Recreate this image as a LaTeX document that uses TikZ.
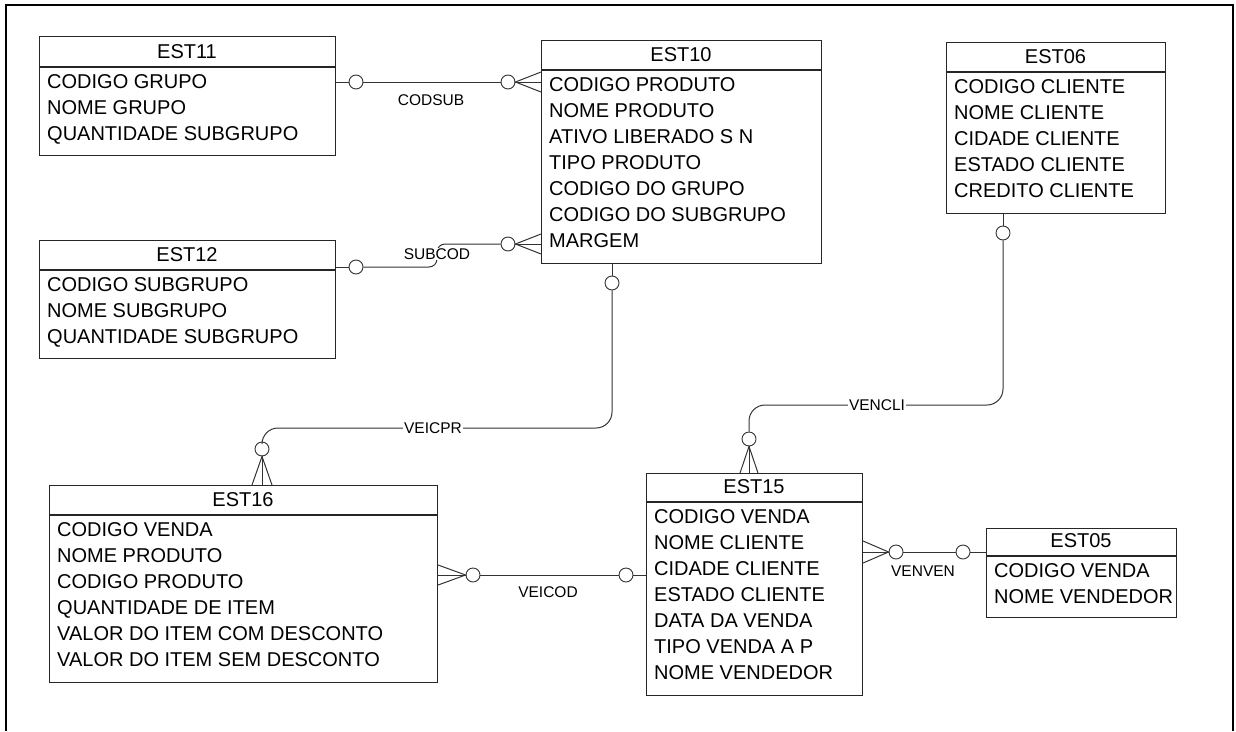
\documentclass[tikz,border=0pt]{standalone}
\usepackage{fontspec}
\setmainfont{Liberation Sans}
\usetikzlibrary{calc}
\tikzset{
 tbl/.style={draw=black!85, line width=1.1pt, inner sep=0pt, anchor=north west},
 ttl/.style={font=\fontsize{20}{24}\selectfont, inner sep=0pt},
 rowtxt/.style={font=\fontsize{20}{24}\selectfont, inner sep=0pt, anchor=base west},
 crc/.style={circle, draw=black!80, fill=white, line width=0.9pt, minimum size=14pt, inner sep=0pt},
 conn/.style={draw=black!80, line width=1pt},
 rel/.style={font=\fontsize{15.5}{18}\selectfont, inner sep=1pt},
 rellab/.style={rel, fill=white},
}
\newcommand\ertab[8]{%
 \node[tbl, minimum width={(#4-#2)*1pt}, minimum height={(#5-#3)*1pt}] (#1) at (#2,#3) {};
 \draw[draw=black!85, line width=1.1pt] (#1.west |- 0,#6) -- (#1.east |- 0,#6);
 \node[ttl] (#1-t) at ({(#2+#4)/2},{#6-15}) {#7};
 \foreach \r [count=\i] in {#8} {\node[rowtxt] (#1-r\i) at ({#2+8},{#6+14+26*(\i-1)+7.5}) {\r};}
}
\begin{document}
\begin{tikzpicture}[x=1pt,y=-1pt]
\useasboundingbox (0,0) rectangle (1236,731);
\draw[line width=2.5pt] (6,731) -- (6,5) -- (1233,5) -- (1233,731);

\ertab{est11}{39}{36}{335}{155}{67}{EST11}{CODIGO GRUPO,NOME GRUPO,QUANTIDADE SUBGRUPO}
\ertab{est10}{541}{40}{821}{263}{70}{EST10}{CODIGO PRODUTO,NOME PRODUTO,ATIVO LIBERADO S N,TIPO PRODUTO,CODIGO DO GRUPO,CODIGO DO SUBGRUPO,MARGEM}
\ertab{est06}{946}{42}{1165}{213}{72}{EST06}{CODIGO CLIENTE,NOME CLIENTE,CIDADE CLIENTE,ESTADO CLIENTE,CREDITO CLIENTE}
\ertab{est12}{39}{240}{335}{358}{270}{EST12}{CODIGO SUBGRUPO,NOME SUBGRUPO,QUANTIDADE SUBGRUPO}
\ertab{est16}{49}{485}{437}{682}{515}{EST16}{CODIGO VENDA,NOME PRODUTO,CODIGO PRODUTO,QUANTIDADE DE ITEM,VALOR DO ITEM COM DESCONTO,VALOR DO ITEM SEM DESCONTO}
\ertab{est15}{646}{473}{862}{695}{502}{EST15}{CODIGO VENDA,NOME CLIENTE,CIDADE CLIENTE,ESTADO CLIENTE,DATA DA VENDA,TIPO VENDA A P,NOME VENDEDOR}
\ertab{est05}{986}{528}{1176}{617}{556}{EST05}{CODIGO VENDA,NOME VENDEDOR}

% CODSUB
\node[crc] (c11) at (356,82) {};
\node[crc] (c10a) at (508,82) {};
\draw[conn] (est11.east |- c11) -- (c11) -- (c10a);
\draw[conn] ($(est10.west |- c10a)+(0,-10)$) -- (c10a.east) -- ($(est10.west |- c10a)+(0,10)$);
\draw[conn] (c10a.east) -- (est10.west |- c10a);
\node[rel] (lcodsub) at (431,100) {CODSUB};

% SUBCOD
\node[crc] (c12) at (356,267) {};
\node[crc] (c10b) at (508,244) {};
\draw[conn] (est12.east |- c12) -- (c12);
\draw[conn, rounded corners=8pt] (c12.east) -- (437,267) -- (437,244) -- (c10b.west);
\draw[conn] ($(est10.west |- c10b)+(0,-10)$) -- (c10b.east) -- ($(est10.west |- c10b)+(0,10)$);
\draw[conn] (c10b.east) -- (est10.west |- c10b);
\node[rellab] (lsubcod) at (437,254) {SUBCOD};

% VEICPR
\node[crc] (c10c) at (612,283) {};
\node[crc] (c16a) at (262,449) {};
\draw[conn] (c10c |- est10.south) -- (c10c);
\draw[conn, rounded corners=16pt] (c10c.south) -- (612,428) -- (262,428) -- (c16a.north);
\draw[conn] ($(c16a |- est16.north)+(-10,0)$) -- (c16a.south) -- ($(c16a |- est16.north)+(10,0)$);
\draw[conn] (c16a.south) -- (c16a |- est16.north);
\node[rellab] (lveicpr) at (433,428) {VEICPR};

% VENCLI
\node[crc] (c06) at (1003,233) {};
\node[crc] (c15a) at (749,439) {};
\draw[conn] (c06 |- est06.south) -- (c06);
\draw[conn, rounded corners=16pt] (c06.south) -- (1003,405) -- (749,405) -- (c15a.north);
\draw[conn] ($(c15a |- est15.north)+(-9,0)$) -- (c15a.south) -- ($(c15a |- est15.north)+(9,0)$);
\draw[conn] (c15a.south) -- (c15a |- est15.north);
\node[rellab] (lvencli) at (877,405) {VENCLI};

% VEICOD
\node[crc] (c16b) at (473,575) {};
\node[crc] (c15b) at (626,575) {};
\draw[conn] ($(est16.east |- c16b)+(0,-10)$) -- (c16b.west) -- ($(est16.east |- c16b)+(0,10)$);
\draw[conn] (c16b.west) -- (est16.east |- c16b);
\draw[conn] (c16b) -- (c15b) -- (est15.west |- c15b);
\node[rel] (lveicod) at (548,592) {VEICOD};

% VENVEN
\node[crc] (c15c) at (896,552) {};
\node[crc] (c05) at (963,552) {};
\draw[conn] ($(est15.east |- c15c)+(0,-11)$) -- (c15c.west) -- ($(est15.east |- c15c)+(0,11)$);
\draw[conn] (c15c.west) -- (est15.east |- c15c);
\draw[conn] (c15c) -- (c05) -- (est05.west |- c05);
\node[rel] (lvenven) at (923,571) {VENVEN};
\end{tikzpicture}
\end{document}
